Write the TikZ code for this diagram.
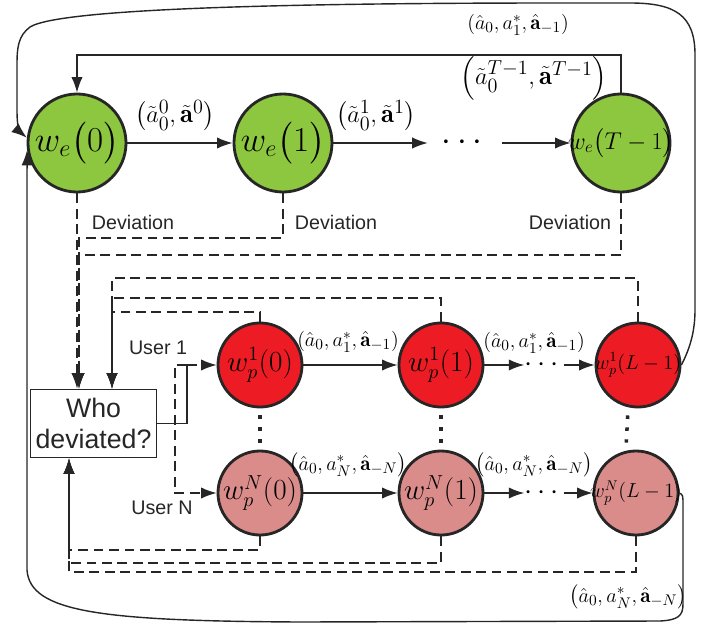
\documentclass[tikz,border=0pt]{standalone}
\usepackage{amsmath}
\usepackage{fontspec}
\setsansfont{Liberation Sans}
\usepackage{tikz}
\usetikzlibrary{positioning,arrows.meta}
\definecolor{stategreen}{RGB}{141,198,63}
\definecolor{statered}{RGB}{237,28,36}
\definecolor{statepink}{RGB}{217,140,138}
\newcommand{\fitin}[1]{\makebox[0pt]{#1}}
\begin{document}
\begin{tikzpicture}[x=0.025cm,y=-0.025cm,
  gstate/.style={circle,draw=black!85,line width=2pt,fill=stategreen,
                 minimum size=2.45cm,inner sep=0pt,font=\fontsize{23}{26}\selectfont},
  rstate/.style={circle,draw=black!85,line width=2pt,fill=statered,
                 minimum size=2.1cm,inner sep=0pt,font=\fontsize{21}{24}\selectfont},
  pstate/.style={rstate,fill=statepink},
  lab/.style={font=\sffamily\fontsize{14}{16}\selectfont,text=black!85},
  glab/.style={font=\fontsize{19}{22}\selectfont},
  rlab/.style={font=\fontsize{15}{18}\selectfont},
  dotsbox/.style={inner sep=0pt,minimum height=0.5cm},
  flow/.style={-{Latex[length=11pt,width=8pt]},line width=1pt,draw=black!85},
  devline/.style={line width=1pt,dash pattern=on 7pt off 4pt,draw=black!85},
  devflow/.style={devline,-{Latex[length=11pt,width=8pt]}},
  dotline/.style={line width=2.5pt,dash pattern=on 2.5pt off 6pt,draw=black!85,
                  shorten <=5pt,shorten >=5pt},
]
  \useasboundingbox (0,0) rectangle (715,624);

  % equilibrium states
  \node[gstate] (we0) at (77,143) {$w_e\bigl(0\bigr)$};
  \node[gstate] (we1) at (283,143) {$w_e\bigl(1\bigr)$};
  \node[dotsbox,minimum width=1.85cm,font=\fontsize{26}{26}\selectfont] (gdots) at (465,143) {$\cdots$};
  \node[gstate,font=\fontsize{17}{20}\selectfont] (weT) at (621,143) {\fitin{$w_e\bigl(T-1\bigr)$}};

  % punishment states, user 1 and user N
  \node[rstate] (wp10) at (260,365) {$w_p^1(0)$};
  \node[rstate] (wp11) at (441,365) {$w_p^1(1)$};
  \node[dotsbox,minimum width=0.925cm,font=\fontsize{22}{22}\selectfont] (rdots) at (544,365) {$\cdots$};
  \node[rstate,font=\fontsize{14}{17}\selectfont] (wp1L) at (638,365) {\fitin{$w_p^1(L-1)$}};
  \node[pstate] (wpN0) at (260,493) {$w_p^N(0)$};
  \node[pstate] (wpN1) at (441,493) {$w_p^N(1)$};
  \node[dotsbox,minimum width=0.925cm,font=\fontsize{22}{22}\selectfont] (pdots) at (544,493) {$\cdots$};
  \node[pstate,font=\fontsize{14}{17}\selectfont] (wpNL) at (636,493) {\fitin{$w_p^N(L-1)$}};

  \node[draw=black!85,line width=0.6pt,minimum width=3.02cm,minimum height=1.72cm,
        align=center,font=\sffamily\fontsize{19}{22}\selectfont,text=black!85]
        (who) at (93.5,423.5) {Who\\deviated?};

  % labels
  \node[lab] (dev0) at (133,222) {Deviation};
  \node[lab] (dev1) at (336,222) {Deviation};
  \node[lab] (devT) at (570,222) {Deviation};
  \node[lab] (user1) at (158,348) {User 1};
  \node[lab] (userN) at (162,508) {User N};
  \node[glab] (lg0) at (175,116) {$\left(\tilde{a}_0^0,\tilde{\mathbf{a}}^0\right)$};
  \node[glab] (lg1) at (376,116) {$\left(\tilde{a}_0^1,\tilde{\mathbf{a}}^1\right)$};
  \node[glab] (lgT) at (534,78) {$\left(\tilde{a}_0^{T-1},\tilde{\mathbf{a}}^{T-1}\right)$};
  \node[rlab] (lr0) at (348,342) {$\left(\hat{a}_0,a_1^*,\hat{\mathbf{a}}_{-1}\right)$};
  \node[rlab] (lr1) at (534,343) {$\left(\hat{a}_0,a_1^*,\hat{\mathbf{a}}_{-1}\right)$};
  \node[rlab] (lp0) at (348,465) {$\left(\hat{a}_0,a_N^*,\hat{\mathbf{a}}_{-N}\right)$};
  \node[rlab] (lp1) at (534,465) {$\left(\hat{a}_0,a_N^*,\hat{\mathbf{a}}_{-N}\right)$};
  \node[rlab] (ltop) at (518,25) {$\left(\hat{a}_0,a_1^*,\hat{\mathbf{a}}_{-1}\right)$};
  \node[rlab] (lbot) at (628,597) {$\left(\hat{a}_0,a_N^*,\hat{\mathbf{a}}_{-N}\right)$};

  % transitions
  \draw[flow] (we0) -- (we1);
  \draw[flow] (we1) -- (gdots);
  \draw[flow] (gdots) -- (weT);
  \draw[flow] (weT.north) |- (77,55) -- (we0.north);
  \draw[flow] (wp10) -- (wp11);
  \draw[flow] (wp11) -- (rdots);
  \draw[flow] (rdots) -- (wp1L);
  \draw[flow] (wpN0) -- (wpN1);
  \draw[flow] (wpN1) -- (pdots);
  \draw[flow] (pdots) -- (wpNL);
  \draw[dotline] (wp10) -- (wpN0);
  \draw[dotline] (wp11) -- (wpN1);
  \draw[dotline] ([xshift=-0.25cm]wp1L.south) -- ([xshift=-0.25cm]wpNL.north);

  % back to the equilibrium
  \draw[flow] (wp1L.east) .. controls (688,352) and (695,335) .. (695,310) -- (695,55)
    .. controls (695,15) and (675,3) .. (630,3) -- (560,3)
    .. controls (300,3) and (60,8) .. (30,27)
    .. controls (18,36) and (17,48) .. (17,65) -- (17,112)
    .. controls (17,126) and (20,132) .. (we0.174);
  \draw[flow] (wpNL.east) .. controls (683,495) .. (683,506) -- (683,604)
    .. controls (683,616) and (678,620) .. (660,621) -- (300,622)
    .. controls (100,621) and (30,612) .. (27,570) -- (27,200) -- (we0.188);

  % deviations
  \draw[devflow] (we0.south) -- (we0.south |- who.north);
  \draw[devflow] (we1.south) |- (79,238) -- (79,238 |- who.north);
  \draw[devflow] (weT.south) |- (79,255) -- (79,255 |- who.north);
  \draw[devflow] (wp10.north) |- (112,312) -- (112,312 |- who.north);
  \draw[devflow] (wp11.north) |- (112,298) -- (112,298 |- who.north);
  \draw[devflow] (wp1L.north) |- (112,278) -- (112,278 |- who.north);
  \draw[devflow] (wpN0.south) |- (69,550) -- (69,550 |- who.south);
  \draw[devflow] (wpN1.south) |- (69,563) -- (69,563 |- who.south);
  \draw[devflow] (wpNL.south) |- (69,572) -- (69,572 |- who.south);

  % who deviated
  \coordinate (split) at (187,365);
  \draw[line width=0.8pt,black!85] (who.east) -| (split);
  \draw[devflow] (split) -- (wp10);
  \draw[devflow] (split) -- (175,365) |- (wpN0);
\end{tikzpicture}
\end{document}
